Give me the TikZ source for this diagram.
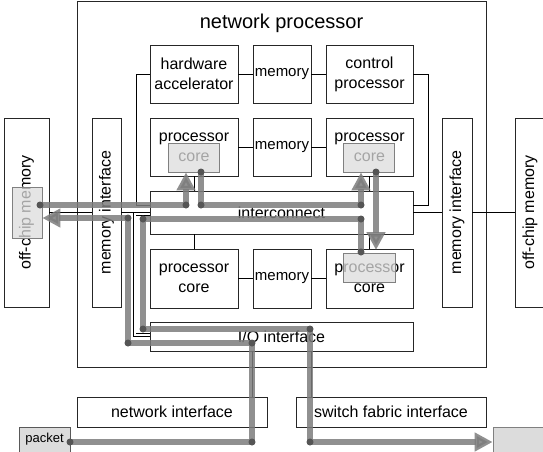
\documentclass[tikz,border=0pt]{standalone}
\usepackage{fontspec}
\setmainfont{Liberation Sans}
\usetikzlibrary{arrows.meta, positioning, calc}
\definecolor{flowgray}{HTML}{7C7C7C}
\definecolor{dotgray}{HTML}{555555}
\definecolor{tokgray}{HTML}{DCDCDC}
\newcommand{\lblfont}{\fontsize{16}{20}\selectfont}
\newcommand{\memfont}{\fontsize{15}{18}\selectfont}

\begin{document}
\begin{tikzpicture}[x=1pt, y=-1pt, font=\lblfont,
    box/.style={draw=black!85, line width=0.8pt, inner sep=0pt, align=center},
    token/.style={draw=black!50, fill=tokgray, fill opacity=0.75, line width=0.8pt, inner sep=0pt},
    flow/.style={line width=6pt, draw=flowgray, opacity=0.85, line join=round},
    flowtip/.style={-{Triangle[length=18pt, width=18pt]}}]
    \useasboundingbox (0,0) rectangle (543,451);
    \node[box, minimum width=409pt, minimum height=366pt] (np) at (281.5,184) {};
    \node[font=\fontsize{20}{24}\selectfont] (title) at (281.5,23) {network processor};
    \node[box, minimum width=88pt, minimum height=58pt] (hwacc) at (194,74) {hardware\\accelerator};
    \node[box, minimum width=58pt, minimum height=58pt, font=\memfont] (memT) at (282,74) {memory};
    \node[box, minimum width=87pt, minimum height=58pt] (ctrl) at (369.5,74) {control\\processor};
    \node[box, minimum width=88pt, minimum height=58pt] (pcL) at (194,147) {processor\\core};
    \node[box, minimum width=58pt, minimum height=58pt, font=\memfont] (memM) at (282,147) {memory};
    \node[box, minimum width=87pt, minimum height=58pt] (pcR) at (369.5,147) {processor\\core};
    \node[box, minimum width=263pt, minimum height=43pt] (ic) at (281.5,212.5) {interconnect};
    \node[box, minimum width=88pt, minimum height=59pt] (pbL) at (194,278.5) {processor\\core};
    \node[box, minimum width=58pt, minimum height=59pt, font=\memfont] (memB) at (282,278.5) {memory};
    \node[box, minimum width=87pt, minimum height=59pt] (pbR) at (369.5,278.5) {processor\\core};
    \node[box, minimum width=263pt, minimum height=29pt] (io) at (281.5,336.5) {I/O interface};
    \node[box, minimum width=29pt, minimum height=189pt] (miL) at (106.5,212.5) {\rotatebox{90}{memory interface}};
    \node[box, minimum width=30pt, minimum height=189pt] (miR) at (457,212.5) {\rotatebox{90}{memory interface}};
    \node[box, minimum width=45pt, minimum height=189pt] (ocL) at (26.5,212.5) {\rotatebox{90}{off-chip memory}};
    \node[box, minimum width=30pt, minimum height=189pt] (ocR) at (530,212.5) {\rotatebox{90}{off-chip memory}};
    \node[box, minimum width=190pt, minimum height=30pt] (ni) at (172,412) {network interface};
    \node[box, minimum width=190pt, minimum height=30pt] (sf) at (391,412) {switch fabric interface};
    \node[box, draw=black!65, fill=tokgray, minimum width=51pt, minimum height=25pt, font=\fontsize{13}{15}\selectfont] (packet) at (44.5,439.5) {packet};
    \node[box, draw=black!50, fill=tokgray, minimum width=67pt, minimum height=25pt] (out) at (526.5,439.5) {};

    \foreach \a/\b in {hwacc/memT, memT/ctrl, pcL/memM, memM/pcR, pbL/memB, memB/pbR, miL/ic, ocL/miL, ic/miR, miR/ocR}
        \draw[line width=0.8pt] (\a.east) -- (\b.west);
    \draw[line width=0.8pt] (hwacc.west) -| (136,205) -- (ic.west |- 0,205);
    \draw[line width=0.8pt] (ctrl.east) -| (428,205) -- (ic.east |- 0,205);
    \foreach \n in {pcL, pcR}
        \draw[line width=0.8pt] (\n.south) -- (\n.south |- ic.north);
    \foreach \n in {pbL, pbR}
        \draw[line width=0.8pt] (\n.north) -- (\n.north |- ic.south);
    \draw[line width=0.7pt, double, double distance=2pt] (ic.west |- 0,214) -| (134.5,335) -- (io.west |- 0,335);
    \draw[line width=0.8pt] (io.south -| 252,0) -- (ni.north -| 252,0);
    \draw[line width=0.8pt] (io.south -| 311,0) -- (sf.north -| 311,0);

    \node[token, minimum width=51pt, minimum height=29pt] (tokL) at (193.5,157.5) {};
    \node[token, minimum width=51pt, minimum height=29pt] (tokR) at (368.5,157.5) {};
    \node[token, minimum width=52pt, minimum height=29pt] (tokB) at (369,267.5) {};
    \node[token, minimum width=30pt, minimum height=51pt] (tokM) at (27,212.5) {};

    \draw[flow, flowtip] (packet.east |- 0,442) -- (252,442) -- (252,343) -- (128,343) -- (128,218) -- (tokM.east |- 0,218);
    \draw[flow, flowtip] (40,205) -- (186,205) -- (tokL.south -| 186,0);
    \draw[flow, flowtip] (201,172) -- (201,205) -- (361,205) -- (tokR.south -| 361,0);
    \draw[flow, flowtip] (376,172) -- (376,250);
    \draw[flow, flowtip] (361,252) -- (361,219) -- (143,219) -- (143,329) -- (310,329) -- (310,442) -- (out.west |- 0,442);
    \foreach \p in {(70,442), (252,442), (252,343), (128,343), (128,218), (40,205), (186,205), (201,172), (201,205), (361,205), (376,172), (361,252), (361,219), (143,219), (143,329), (310,329), (310,442)}
        \fill[dotgray] \p circle (3.5pt);
\end{tikzpicture}
\end{document}
